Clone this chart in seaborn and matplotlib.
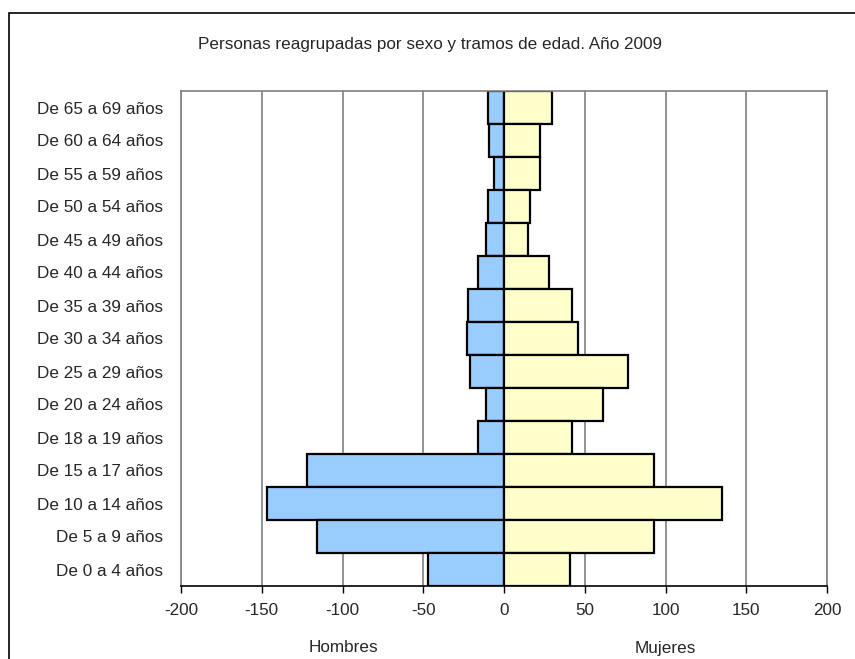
import matplotlib
matplotlib.use("Agg")
import matplotlib.pyplot as plt
import seaborn as sns
import pandas as pd
from matplotlib.patches import Rectangle

categories = ["De 65 a 69 años", "De 60 a 64 años", "De 55 a 59 años", "De 50 a 54 años",
              "De 45 a 49 años", "De 40 a 44 años", "De 35 a 39 años", "De 30 a 34 años",
              "De 25 a 29 años", "De 20 a 24 años", "De 18 a 19 años", "De 15 a 17 años",
              "De 10 a 14 años", "De 5 a 9 años", "De 0 a 4 años"]
hombres = [-10, -9, -6, -10, -11, -16, -22, -23, -21, -11, -16, -122, -147, -116, -47]
mujeres = [30, 22, 22, 16, 15, 28, 42, 46, 77, 61, 42, 93, 135, 93, 41]
xticks = [-200, -150, -100, -50, 0, 50, 100, 150, 200]
title = "Personas reagrupadas por sexo y tramos de edad. Año 2009"

sns.set_theme(style="white")
plt.rcParams['font.family'] = ['Liberation Sans', 'DejaVu Sans']
plt.rcParams['axes.unicode_minus'] = False

df = pd.DataFrame({
    "cat": categories * 2,
    "val": hombres + mujeres,
    "sexo": ["Hombres"] * len(categories) + ["Mujeres"] * len(categories),
})

FS = 12.3
fig = plt.figure(figsize=(8.55, 6.59), dpi=100)
W, H = 855, 659
ax = fig.add_axes([181 / W, 1 - 586 / H, (827 - 181) / W, (586 - 91) / H])

sns.barplot(data=df, y="cat", x="val", hue="sexo", order=categories, dodge=False,
            palette={"Hombres": "#99CCFF", "Mujeres": "#FFFFCC"}, width=0.98, saturation=1,
            edgecolor="black", linewidth=1.6, legend=False, ax=ax, orient="h")

ax.set_xlim(-200, 200)
ax.set_ylim(len(categories) - 0.5, -0.5)
ax.set_xticks(xticks)
ax.set_xticklabels([str(t) for t in xticks], fontsize=FS)
ax.tick_params(axis="y", labelsize=FS, length=0, pad=13)
ax.tick_params(axis="x", length=5, width=1, color="black", direction="out", pad=7, bottom=True)
ax.set_xlabel("")
ax.set_ylabel("")
ax.xaxis.grid(True, color="#808080", linewidth=1.2)
ax.set_axisbelow(True)
for s in ["top", "right", "left"]:
    ax.spines[s].set_color("#808080")
    ax.spines[s].set_linewidth(1.2)
ax.spines["bottom"].set_color("black")
ax.spines["bottom"].set_linewidth(1.2)

fig.text(430 / W, 1 - 45 / H, title, ha="center", va="center", fontsize=FS)
fig.text(343 / W, 1 - 648 / H, "Hombres", ha="center", va="center", fontsize=FS)
fig.text(665 / W, 1 - 648 / H, "Mujeres", ha="center", va="center", fontsize=FS)

frame = Rectangle((9 / W, -0.05), 1.0, 1 - 13 / H + 0.05, transform=fig.transFigure,
                  fill=False, edgecolor="black", linewidth=1.2, clip_on=False)
fig.patches.append(frame)

fig.savefig("out.png", dpi=100, facecolor="white")
